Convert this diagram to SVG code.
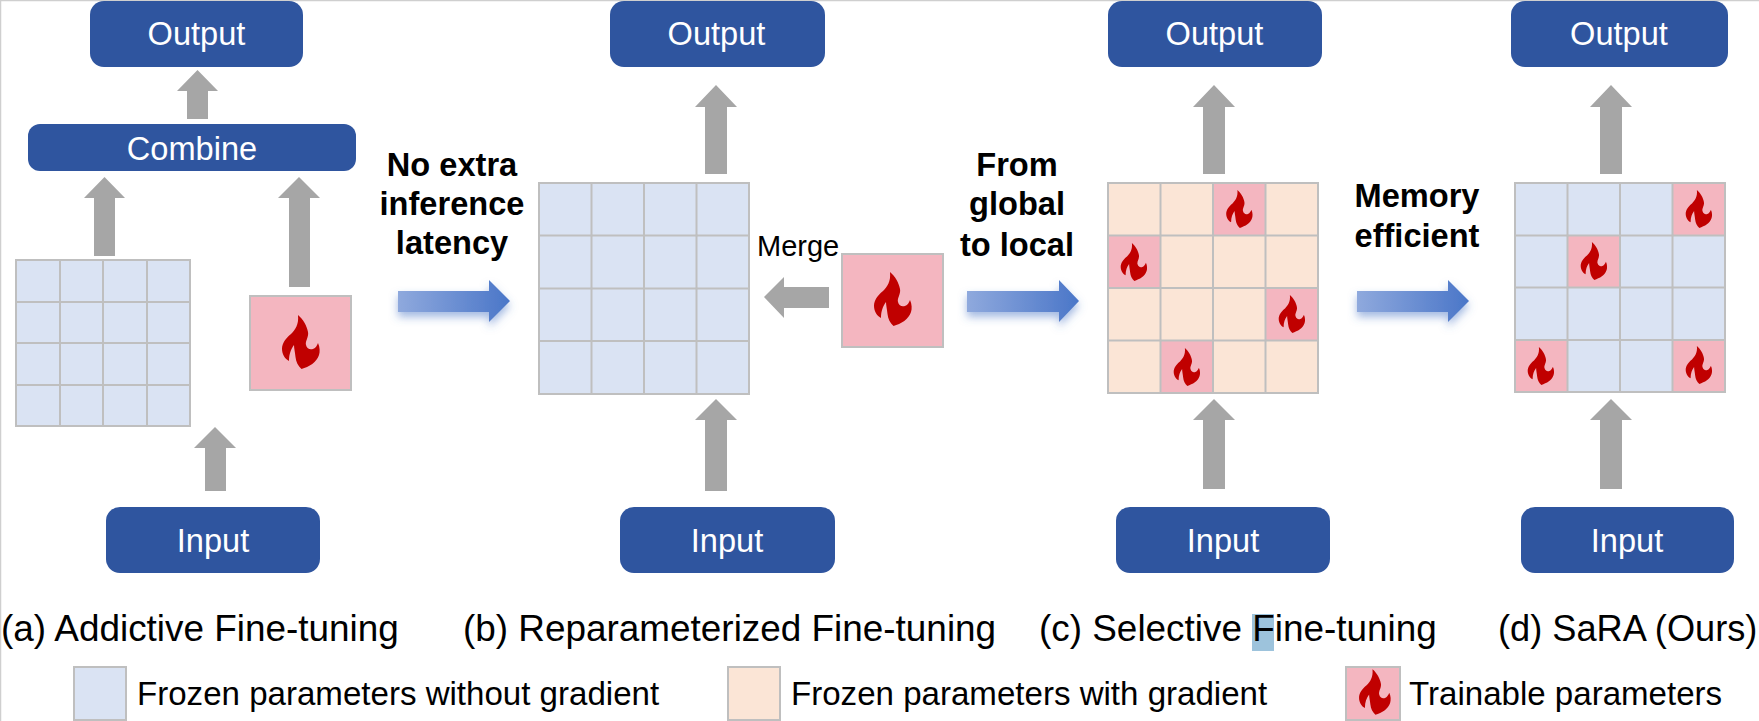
<svg xmlns="http://www.w3.org/2000/svg" xmlns:xlink="http://www.w3.org/1999/xlink" width="1759" height="721" viewBox="0 0 1759 721">
<style>
text{font-family:"Liberation Sans",Arial,sans-serif;fill:#000}
.box{fill:#2f559f}
.bt{fill:#fff;font-size:32.6px;text-anchor:middle}
.head{font-weight:bold;font-size:32.6px;text-anchor:middle}
.cap{font-size:36.9px}
.leg{font-size:33.1px}
.gl{fill:none;stroke:#bfbfbf;stroke-width:2}
.fz{fill:#dae3f3}
.pc{fill:#fbe5d6}
.tr{fill:#f4b6c0}
.ga{fill:#a6a6a6}
.ba{fill:url(#bg);filter:url(#sh)}
.fl{fill:#c00000}
</style>
<defs>
<linearGradient id="bg" x1="0" y1="0" x2="1" y2="0"><stop offset="0" stop-color="#8fa9dd"/><stop offset="1" stop-color="#4a76c8"/></linearGradient>
<filter id="sh" x="-15%" y="-30%" width="130%" height="170%"><feDropShadow dx="0" dy="5" stdDeviation="4" flood-color="#4472c4" flood-opacity="0.5"/></filter>
<path id="flame" d="M-3-27C2-23 6-16 7-10C8-5 4-1 5 3C6 7 9 8 12 7C15 6 16 3 17 1C19 5 19 10 18 13C16 20 8 25 .5 27C-3 24-5 20-5.5 15C-6 10-7 6-7 3C-10 7-12 12-12 19C-16 17-19 12-19 7C-19 1-15-4-10-8C-6-12-2-17-3-27Z"/>
</defs>
<rect width="1759" height="721" fill="#fff"/>
<path d="M.5 721V.5H1759" fill="none" stroke="#cfcfcf" stroke-width="1.5"/>

<g id="connectors">
<polygon class="ga" points="197.500,70 218,91 208,91 208,119 187,119 187,91 177,91"/>
<polygon class="ga" points="104.500,177 125,198 115,198 115,256 94,256 94,198 84,198"/>
<polygon class="ga" points="299,177 320,198 310,198 310,287 289,287 289,198 278,198"/>
<polygon class="ga" points="215,427 236,448 226,448 226,491 205,491 205,448 194,448"/>
<polygon class="ga" points="716,85 737,107 727,107 727,174 705,174 705,107 695,107"/>
<polygon class="ga" points="716,399 737,420 727,420 727,491 705,491 705,420 695,420"/>
<polygon class="ga" points="764,297 784,277 784,287 829,287 829,308 784,308 784,318"/>
<polygon class="ga" points="1214,85 1235,107 1225,107 1225,174 1203,174 1203,107 1193,107"/>
<polygon class="ga" points="1214,399 1235,420 1225,420 1225,489 1203,489 1203,420 1193,420"/>
<polygon class="ga" points="1611,85 1632,107 1622,107 1622,174 1600,174 1600,107 1590,107"/>
<polygon class="ga" points="1611,399 1632,420 1622,420 1622,489 1600,489 1600,420 1590,420"/>
<polygon class="ba" points="398,291 489,291 489,280 510,301 489,322 489,312 398,312"/>
<polygon class="ba" points="967,291 1059,291 1059,280 1079,301 1059,322 1059,312 967,312"/>
<polygon class="ba" points="1357,291 1448,291 1448,280 1469,301 1448,322 1448,312 1357,312"/>
</g>

<g id="node-a-output"><rect class="box" x="90" y="1" width="213" height="66" rx="14"/><text class="bt" x="196.500" y="45">Output</text></g>
<g id="node-a-combine"><rect class="box" x="28" y="124" width="328" height="47" rx="12"/><text class="bt" x="192" y="160">Combine</text></g>
<g id="node-a-input"><rect class="box" x="106" y="507" width="214" height="66" rx="14"/><text class="bt" x="213" y="552">Input</text></g>
<g id="node-a-grid"><rect class="fz" x="16" y="260" width="174" height="166"/><path class="gl" d="M16 260H190V426H16ZM60 260V426M103 260V426M147 260V426M16 302H190M16 343H190M16 385H190"/></g>
<g id="node-a-train"><rect class="tr" x="250" y="296" width="101" height="94"/><rect class="gl" x="250" y="296" width="101" height="94"/><use href="#flame" class="fl" x="301" y="342"/></g>

<g id="node-b-output"><rect class="box" x="610" y="1" width="215" height="66" rx="14"/><text class="bt" x="716.500" y="45">Output</text></g>
<g id="node-b-input"><rect class="box" x="620" y="507" width="215" height="66" rx="14"/><text class="bt" x="727" y="552">Input</text></g>
<g id="node-b-grid"><rect class="fz" x="539" y="183" width="210" height="211"/><path class="gl" d="M539 183H749V394H539ZM591.500 183V394M644 183V394M696.500 183V394M539 235.500H749M539 288.500H749M539 341H749"/></g>
<g id="node-b-train"><rect class="tr" x="842" y="254" width="101" height="93"/><rect class="gl" x="842" y="254" width="101" height="93"/><use href="#flame" class="fl" x="893" y="299"/></g>
<text id="label-merge" x="757" y="256" font-size="29">Merge</text>

<g id="node-c-output"><rect class="box" x="1108" y="1" width="214" height="66" rx="14"/><text class="bt" x="1214.500" y="45">Output</text></g>
<g id="node-c-input"><rect class="box" x="1116" y="507" width="214" height="66" rx="14"/><text class="bt" x="1223" y="552">Input</text></g>
<g id="node-c-grid">
<rect class="pc" x="1108" y="183" width="210" height="210"/>
<rect class="tr" x="1213" y="183" width="52.500" height="52.500"/><rect class="tr" x="1108" y="235.500" width="52.500" height="52.500"/><rect class="tr" x="1265.500" y="288" width="52.500" height="52.500"/><rect class="tr" x="1160.500" y="340.500" width="52.500" height="52.500"/>
<path class="gl" d="M1108 183H1318V393H1108ZM1160.500 183V393M1213 183V393M1265.500 183V393M1108 235.500H1318M1108 288H1318M1108 340.500H1318"/>
<use href="#flame" class="fl" transform="translate(1239.500 209) scale(.7)"/><use href="#flame" class="fl" transform="translate(1134 262) scale(.7)"/><use href="#flame" class="fl" transform="translate(1292 314) scale(.7)"/><use href="#flame" class="fl" transform="translate(1187 367) scale(.7)"/>
</g>

<g id="node-d-output"><rect class="box" x="1511" y="1" width="217" height="66" rx="14"/><text class="bt" x="1619" y="45">Output</text></g>
<g id="node-d-input"><rect class="box" x="1521" y="507" width="213" height="66" rx="14"/><text class="bt" x="1627" y="552">Input</text></g>
<g id="node-d-grid">
<rect class="fz" x="1515" y="183" width="210" height="209"/>
<rect class="tr" x="1672.500" y="183" width="52.500" height="52.500"/><rect class="tr" x="1567.500" y="235.500" width="52.500" height="52"/><rect class="tr" x="1515" y="340" width="52.500" height="52"/><rect class="tr" x="1672.500" y="340" width="52.500" height="52"/>
<path class="gl" d="M1515 183H1725V392H1515ZM1567.500 183V392M1620 183V392M1672.500 183V392M1515 235.500H1725M1515 287.500H1725M1515 340H1725"/>
<use href="#flame" class="fl" transform="translate(1699 209) scale(.7)"/><use href="#flame" class="fl" transform="translate(1594 261) scale(.7)"/><use href="#flame" class="fl" transform="translate(1541 366) scale(.7)"/><use href="#flame" class="fl" transform="translate(1699 365) scale(.7)"/>
</g>

<g id="headings">
<text class="head" x="452" y="176">No extra</text><text class="head" x="452" y="215">inference</text><text class="head" x="452" y="254">latency</text>
<text class="head" x="1017" y="176">From</text><text class="head" x="1017" y="215">global</text><text class="head" x="1017" y="256">to local</text>
<text class="head" x="1417" y="207">Memory</text><text class="head" x="1417" y="247">efficient</text>
</g>

<g id="captions">
<rect x="1252" y="614" width="22" height="37" fill="#9dc3dc"/>
<text class="cap" x="1" y="641">(a) Addictive Fine-tuning</text>
<text class="cap" x="463" y="641">(b) Reparameterized Fine-tuning</text>
<text class="cap" x="1039" y="641">(c) Selective Fine-tuning</text>
<text class="cap" x="1498" y="641" style="font-size:36.2px">(d) SaRA (Ours)</text>
</g>

<g id="legend-frozen"><rect class="fz" x="74" y="667" width="52" height="53"/><rect class="gl" x="74" y="667" width="52" height="53"/><text class="leg" x="137" y="705">Frozen parameters without gradient</text></g>
<g id="legend-gradient"><rect class="pc" x="728" y="667" width="52" height="53"/><rect class="gl" x="728" y="667" width="52" height="53"/><text class="leg" x="791" y="705">Frozen parameters with gradient</text></g>
<g id="legend-train"><rect class="tr" x="1346" y="667" width="54" height="53"/><rect class="gl" x="1346" y="667" width="54" height="53"/><use href="#flame" class="fl" transform="translate(1375 692) scale(.84)"/><text class="leg" x="1409" y="705">Trainable parameters</text></g>
</svg>
